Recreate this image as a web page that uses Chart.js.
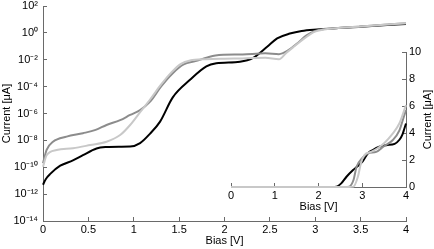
<!DOCTYPE html>
<html><head><meta charset="utf-8">
<script src="https://cdn.jsdelivr.net/npm/chart.js@4.4.1/dist/chart.umd.min.js"></script>
<style>
html,body{margin:0;padding:0;background:#fff;}
#wrap{position:relative;width:434px;height:249px;overflow:hidden;}
#wrap canvas{position:absolute;left:0;top:0;}
</style></head><body>
<div id="wrap"><canvas id="main" width="434" height="249"></canvas><canvas id="inset" width="434" height="249"></canvas></div>
<script>
// ---------- data (current in µA vs bias in V) ----------
const mainBiasBlack = [0, 0.03, 0.08, 0.19, 0.33, 0.44, 0.59, 0.7, 0.85, 0.96, 1.07, 1.18, 1.29, 1.43, 1.62, 1.8, 1.91, 2.17, 2.31, 2.47, 2.58, 2.72, 2.85, 3.02, 3.5, 4.0];
const mainCurrentBlack = [5.0e-12, 1.3e-11, 3.2e-11, 1.3e-10, 3.2e-10, 7.9e-10, 2.5e-9, 3.2e-9, 3.4e-9, 3.5e-9, 6.3e-9, 3.2e-8, 2.5e-7, 1.6e-5, 3.2e-4, 3.2e-3, 5.4e-3, 7.1e-3, 1.3e-2, 9.3e-2, 0.39, 0.89, 1.4, 1.8, 2.9, 4.6];

const mainBiasDark = [0, 0.04, 0.11, 0.26, 0.44, 0.58, 0.7, 0.85, 0.96, 1.07, 1.18, 1.3, 1.43, 1.55, 1.68, 1.8, 1.9, 2.2, 2.45, 2.6, 2.7, 2.8, 2.9, 3.0, 3.1, 3.5, 4.0];
const mainCurrentDark = [2.0e-10, 2.0e-9, 7.9e-9, 1.9e-8, 3.4e-8, 6.0e-8, 1.4e-7, 3.2e-7, 7.8e-7, 1.8e-6, 7.6e-6, 1.0e-4, 1.0e-3, 4.5e-3, 7.9e-3, 1.4e-2, 2.1e-2, 2.5e-2, 3.0e-2, 2.6e-2, 5.0e-2, 0.16, 0.63, 1.4, 1.9, 3.0, 5.2];

const mainBiasLight = [0, 0.04, 0.15, 0.33, 0.52, 0.7, 0.85, 0.96, 1.07, 1.18, 1.3, 1.42, 1.52, 1.62, 1.8, 2.0, 2.2, 2.45, 2.6, 2.68, 2.77, 2.88, 2.99, 3.08, 3.5, 4.0];
const mainCurrentLight = [1.1e-10, 7.9e-10, 1.9e-9, 2.6e-9, 4.5e-9, 7.9e-9, 2.5e-8, 1.4e-7, 1.26e-6, 1.1e-5, 1.4e-4, 1.26e-3, 5.0e-3, 8.9e-3, 1.1e-2, 1.2e-2, 1.26e-2, 1.4e-2, 1.07e-2, 3.2e-2, 0.1, 0.39, 1.2, 1.7, 3.0, 5.2];

const insetBiasBlack = [0, 2.3, 2.41, 2.52, 2.64, 2.79, 2.9, 3.01, 3.13, 3.24, 3.39, 3.55, 3.74, 3.85, 3.92, 3.96, 4.0];
const insetCurrentBlack = [0, 0, 0.02, 0.27, 0.76, 1.26, 1.55, 1.9, 2.5, 2.74, 2.98, 3.1, 3.2, 3.5, 3.9, 4.3, 4.7];

const insetBiasDark = [0, 2.6, 2.7, 2.8, 2.87, 3.0, 3.13, 3.32, 3.48, 3.7, 3.85, 3.95, 4.0];
const insetCurrentDark = [0, 0, 0.03, 0.52, 1.5, 2.13, 2.5, 2.6, 2.98, 3.48, 4.2, 5.2, 5.7];

const insetBiasLight = [0, 2.7, 2.8, 2.9, 2.97, 3.05, 3.2, 3.35, 3.5, 3.7, 3.85, 3.95, 4.0];
const insetCurrentLight = [0, 0, 0.03, 0.76, 1.76, 2.37, 2.6, 2.87, 3.24, 3.97, 4.72, 5.6, 6.07];

// ---------- ticks & labels ----------
const mainXTicks = [0, 0.5, 1, 1.5, 2, 2.5, 3, 3.5, 4];
const mainXTickLabels = ['0', '0.5', '1', '1.5', '2', '2.5', '3', '3.5', '4'];
const mainYTicks = [1e-14, 1e-12, 1e-10, 1e-8, 1e-6, 1e-4, 1e-2, 1e0, 1e2];
const mainYTickLabels = ['10\u207B\u00B9\u2074', '10\u207B\u00B9\u00B2', '10\u207B\u00B9\u2070', '10\u207B\u2078', '10\u207B\u2076', '10\u207B\u2074', '10\u207B\u00B2', '10\u2070', '10\u00B2'];
const insetXTicks = [0, 1, 2, 3, 4];
const insetXTickLabels = ['0', '1', '2', '3', '4'];
const insetYTicks = [0, 2, 4, 6, 8, 10];
const insetYTickLabels = ['0', '2', '4', '6', '8', '10'];
const xTitle = 'Bias [V]';
const yTitle = 'Current [\u03BCA]';

const seriesColors = ['#000000', '#8c8c8c', '#c8c8c8'];

// ---------- helpers ----------
const FONT = "'Liberation Sans', Arial, Helvetica, sans-serif";
const AXIS = '#6a6a6a';
function pts(xs, ys){ return xs.map((x, i) => ({x: x, y: ys[i]})); }
function lock(w, h){
  return function(s){
    if (w !== null) s.width = w;
    if (h !== null) s.height = h;
    s.paddingLeft = 0; s.paddingRight = 0; s.paddingTop = 0; s.paddingBottom = 0;
  };
}
function setTicks(values){ return function(s){ s.ticks = values.map(v => ({value: v})); }; }
const gridOpts = {display: true, drawOnChartArea: false, drawTicks: true, tickLength: -4, color: AXIS, lineWidth: 1};
const borderOpts = {display: true, color: AXIS, width: 1};
const tickFont = {family: FONT, size: 11};
const titleFont = {family: FONT, size: 11};
const commonOpts = {
  responsive: false, animation: false, devicePixelRatio: 1,
  events: [],
  plugins: {legend: {display: false}, tooltip: {enabled: false}, title: {display: false}},
  elements: {point: {radius: 0}, line: {borderWidth: 2, cubicInterpolationMode: 'monotone', fill: false}}
};

function ds(xs, ys, idx){
  return {data: pts(xs, ys), borderColor: seriesColors[idx], order: 2 - idx, clip: 4};
}

// ---------- main chart (log) ----------
new Chart(document.getElementById('main'), {
  type: 'line',
  data: {datasets: [
    ds(mainBiasBlack, mainCurrentBlack, 0),
    ds(mainBiasDark, mainCurrentDark, 1),
    ds(mainBiasLight, mainCurrentLight, 2)
  ]},
  options: Object.assign({}, commonOpts, {
    layout: {padding: {left: 0, top: 6, right: 28, bottom: 0}},
    scales: {
      x: {
        type: 'linear', position: 'bottom', min: 0, max: 4,
        afterFit: lock(null, 28), afterBuildTicks: setTicks(mainXTicks),
        ticks: {callback: (v, i) => mainXTickLabels[i], font: tickFont, color: '#000', padding: 6, maxRotation: 0, autoSkip: false},
        grid: gridOpts, border: borderOpts,
        title: {display: true, text: xTitle, font: titleFont, color: '#000', padding: {top: 0, bottom: 1}}
      },
      y: {
        type: 'logarithmic', position: 'left', min: 1e-14, max: 1e2,
        afterFit: lock(43, null), afterBuildTicks: setTicks(mainYTicks),
        ticks: {callback: (v, i) => mainYTickLabels[i], font: tickFont, color: '#000', padding: 9, autoSkip: false},
        grid: gridOpts, border: borderOpts,
        title: {display: true, text: yTitle, font: titleFont, color: '#000', padding: {top: 0, bottom: 0}}
      }
    }
  })
});

// ---------- inset chart (linear) ----------
const insetYTitlePlugin = {
  id: 'insetYTitle',
  afterDraw(chart){
    const s = chart.scales.y, ctx = chart.ctx;
    ctx.save();
    ctx.translate(s.right - 6, (s.top + s.bottom) / 2);
    ctx.rotate(-Math.PI / 2);
    ctx.font = titleFont.size + 'px ' + FONT;
    ctx.fillStyle = '#000';
    ctx.textAlign = 'center';
    ctx.textBaseline = 'middle';
    ctx.fillText(yTitle, 0, 0);
    ctx.restore();
  }
};
new Chart(document.getElementById('inset'), {
  type: 'line',
  data: {datasets: [
    ds(insetBiasBlack, insetCurrentBlack, 0),
    ds(insetBiasDark, insetCurrentDark, 1),
    ds(insetBiasLight, insetCurrentLight, 2)
  ]},
  options: Object.assign({}, commonOpts, {
    layout: {padding: {left: 231, top: 52, right: 0, bottom: 34}},
    scales: {
      x: {
        type: 'linear', position: 'bottom', min: 0, max: 4,
        afterFit: lock(null, 28), afterBuildTicks: setTicks(insetXTicks),
        ticks: {callback: (v, i) => insetXTickLabels[i], font: tickFont, color: '#000', padding: 6, maxRotation: 0, autoSkip: false},
        grid: gridOpts, border: borderOpts,
        title: {display: true, text: xTitle, font: titleFont, color: '#000', padding: {top: 0, bottom: 1}}
      },
      y: {
        type: 'linear', position: 'right', min: 0, max: 10,
        afterFit: lock(28, null), afterBuildTicks: setTicks(insetYTicks),
        ticks: {callback: (v, i) => insetYTickLabels[i], font: tickFont, color: '#000', padding: 7, autoSkip: false},
        grid: gridOpts, border: borderOpts,
        title: {display: false}
      }
    }
  }),
  plugins: [insetYTitlePlugin]
});
</script>
</body></html>
